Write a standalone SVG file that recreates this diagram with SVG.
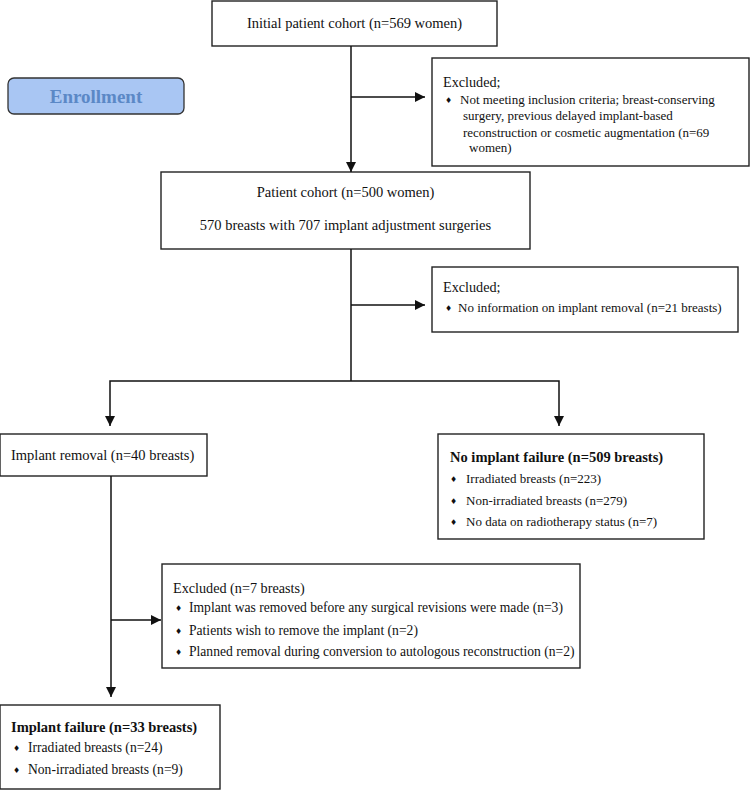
<svg xmlns="http://www.w3.org/2000/svg" width="751" height="791" viewBox="0 0 751 791">
<style>
  .box { fill: #ffffff; stroke: #222222; stroke-width: 1.4; }
  .t { font-family: "Liberation Serif", "Times New Roman", serif; font-size: 14.5px; fill: #111111; }
  .s13 { font-size: 13px; }
  .s135 { font-size: 13.6px; }
  .s14 { font-size: 14.2px; }
  .c { text-anchor: middle; }
  .b { font-weight: bold; }
  .bul { font-family: "DejaVu Sans", sans-serif; font-size: 8px; fill: #111111; }
  .con { fill: none; stroke: #111111; stroke-width: 1.5; }
  .enr { fill: #a9c6f3; stroke: #333333; stroke-width: 1.3; }
  .enrt { font-family: "Liberation Serif", "Times New Roman", serif; font-size: 19px; font-weight: bold; fill: #5b88c6; text-anchor: middle; }
</style>
<defs>
  <marker id="ah" markerUnits="userSpaceOnUse" markerWidth="10" markerHeight="10" viewBox="0 0 10 10" refX="10" refY="5" orient="auto">
    <path d="M0,0 L10,5 L0,10 z" fill="#111111"/>
  </marker>
</defs>
<rect width="751" height="791" fill="#ffffff"/>

<g id="enrollment">
  <rect class="enr" x="8" y="78" width="176" height="36" rx="6" ry="6"/>
  <text class="enrt" x="96" y="103">Enrollment</text>
</g>

<g id="initial">
  <rect class="box" x="212" y="1" width="285" height="45"/>
  <text class="t c" x="354.5" y="28">Initial patient cohort (n=569 women)</text>
</g>

<g id="excluded1">
  <rect class="box" x="432" y="58" width="317" height="108"/>
  <text class="t s14" x="443" y="87">Excluded;</text>
  <text class="bul" x="445" y="103">♦</text>
  <text class="t s13" x="460" y="104">Not meeting inclusion criteria; breast-conserving</text>
  <text class="t s13" x="463" y="120">surgery, previous delayed implant-based</text>
  <text class="t s13" x="463" y="137">reconstruction or cosmetic augmentation (n=69</text>
  <text class="t s13" x="469" y="152">women)</text>
</g>

<g id="cohort">
  <rect class="box" x="161" y="172" width="369" height="77"/>
  <text class="t c" x="345.5" y="197">Patient cohort (n=500 women)</text>
  <text class="t c" x="345.5" y="230">570 breasts with 707 implant adjustment surgeries</text>
</g>

<g id="excluded2">
  <rect class="box" x="432" y="267" width="306" height="65"/>
  <text class="t s14" x="443" y="292">Excluded;</text>
  <text class="bul" x="445" y="311">♦</text>
  <text class="t s13" x="458" y="312">No information on implant removal (n=21 breasts)</text>
</g>

<g id="removal">
  <rect class="box" x="0" y="434" width="207" height="42"/>
  <text class="t" x="11" y="460">Implant removal (n=40 breasts)</text>
</g>

<g id="nofailure">
  <rect class="box" x="438" y="434" width="266" height="105"/>
  <text class="t b" x="450" y="462">No implant failure (n=509 breasts)</text>
  <text class="bul" x="450" y="482">♦</text>
  <text class="t s13" x="466" y="483">Irradiated breasts (n=223)</text>
  <text class="bul" x="450" y="504">♦</text>
  <text class="t s13" x="466" y="505">Non-irradiated breasts (n=279)</text>
  <text class="bul" x="450" y="525">♦</text>
  <text class="t s13" x="466" y="526">No data on radiotherapy status (n=7)</text>
</g>

<g id="excluded3">
  <rect class="box" x="162" y="564" width="418" height="104"/>
  <text class="t s14" x="173" y="593">Excluded (n=7 breasts)</text>
  <text class="bul" x="175" y="611">♦</text>
  <text class="t s135" x="189" y="612">Implant was removed before any surgical revisions were made (n=3)</text>
  <text class="bul" x="175" y="634">♦</text>
  <text class="t s135" x="189" y="635">Patients wish to remove the implant (n=2)</text>
  <text class="bul" x="175" y="655">♦</text>
  <text class="t s135" x="189" y="656">Planned removal during conversion to autologous reconstruction (n=2)</text>
</g>

<g id="failure">
  <rect class="box" x="0" y="705" width="220" height="84"/>
  <text class="t b" x="11" y="732">Implant failure (n=33 breasts)</text>
  <text class="bul" x="13" y="751">♦</text>
  <text class="t s135" x="28" y="752">Irradiated breasts (n=24)</text>
  <text class="bul" x="13" y="773">♦</text>
  <text class="t s135" x="28" y="774">Non-irradiated breasts (n=9)</text>
</g>

<g id="connectors">
  <path class="con" d="M351,46 V172" marker-end="url(#ah)"/>
  <path class="con" d="M351,97 H425" marker-end="url(#ah)"/>
  <path class="con" d="M351,249 V381"/>
  <path class="con" d="M351,305 H425" marker-end="url(#ah)"/>
  <path class="con" d="M351,381 H110 V426" marker-end="url(#ah)"/>
  <path class="con" d="M351,381 H559 V426" marker-end="url(#ah)"/>
  <path class="con" d="M111,476 V697" marker-end="url(#ah)"/>
  <path class="con" d="M111,620 H161" marker-end="url(#ah)"/>
</g>
</svg>
